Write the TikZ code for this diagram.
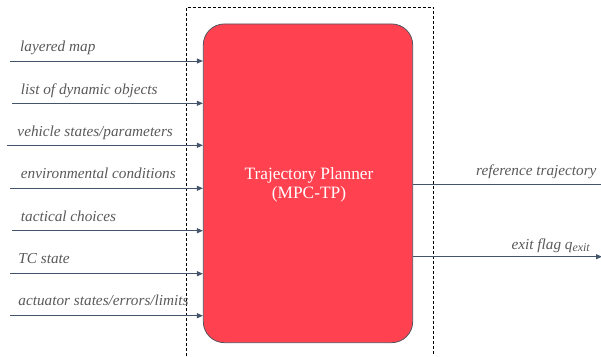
\documentclass[tikz,border=0pt]{standalone}
\usepackage{fontspec}
\setmainfont{Liberation Serif}
\usetikzlibrary{arrows.meta}
\definecolor{tpred}{RGB}{255,65,80}
\definecolor{tpedge}{RGB}{85,85,95}
\definecolor{arrowc}{RGB}{68,84,106}
\definecolor{labelc}{RGB}{89,89,89}
\begin{document}
\begin{tikzpicture}[x=1bp,y=-1bp,
  lbl/.style={font=\fontsize{15.3}{18}\selectfont\itshape, text=labelc, inner sep=0pt},
  inarrow/.style={draw=arrowc, line width=1bp, -{Triangle[length=6bp,width=5bp]}},
  outline/.style={draw=arrowc, line width=1bp},
  tpbox/.style={draw=tpedge, fill=tpred, line width=0.8bp, rounded corners=21bp, inner sep=0pt},
  maintext/.style={font=\fontsize{17.4}{19}\selectfont, text=white, align=center, inner sep=0pt},
  frame/.style={draw=black, line width=0.75bp, dash pattern=on 3bp off 2bp}]
\useasboundingbox (0,0) rectangle (601,356);
% dashed frame
\draw[frame] (186.7,356) -- (186.7,7) -- (433.3,7) -- (433.3,356);
% main block
\node[tpbox, minimum width=209.4bp, minimum height=318.7bp] (tp) at (308,183.3) {};
\node[maintext] (tptext) at (309,185) {Trajectory Planner\\(MPC-TP)};
% inputs
\coordinate (in1) at (10,61);
\coordinate (in2) at (12,103.3);
\coordinate (in3) at (7,145.3);
\coordinate (in4) at (10,188.3);
\coordinate (in5) at (11.7,230.7);
\coordinate (in6) at (10,273.7);
\coordinate (in7) at (10,315.7);
\foreach \i in {1,...,7} {\draw[inarrow] (in\i) -- (in\i -| tp.west);}
\node[lbl, anchor=base west] (l1) at (20,51.7) {layered map};
\node[lbl, anchor=base west] (l2) at (20.7,94.3) {list of dynamic objects};
\node[lbl, anchor=base west] (l3) at (17.3,136.7) {vehicle states/parameters};
\node[lbl, anchor=base west] (l4) at (20.7,178.8) {environmental conditions};
\node[lbl, anchor=base west] (l5) at (20.7,221) {tactical choices};
\node[lbl, anchor=base west] (l6) at (18.3,263.3) {TC state};
\node[lbl, anchor=base west] (l7) at (18.3,305) {actuator states/errors/limits};
% outputs
\coordinate (out1) at (601,184.3);
\coordinate (out2) at (602,256.7);
\draw[outline] (tp.east |- out1) -- (out1);
\draw[inarrow] (tp.east |- out2) -- (out2);
\node[lbl, anchor=base east] (r1) at (596.7,175.7) {reference trajectory};
\node[lbl, anchor=base east] (r2) at (590,249.3) {exit flag q\raisebox{-2.5bp}{\fontsize{12}{13}\selectfont exit}};
\end{tikzpicture}
\end{document}
